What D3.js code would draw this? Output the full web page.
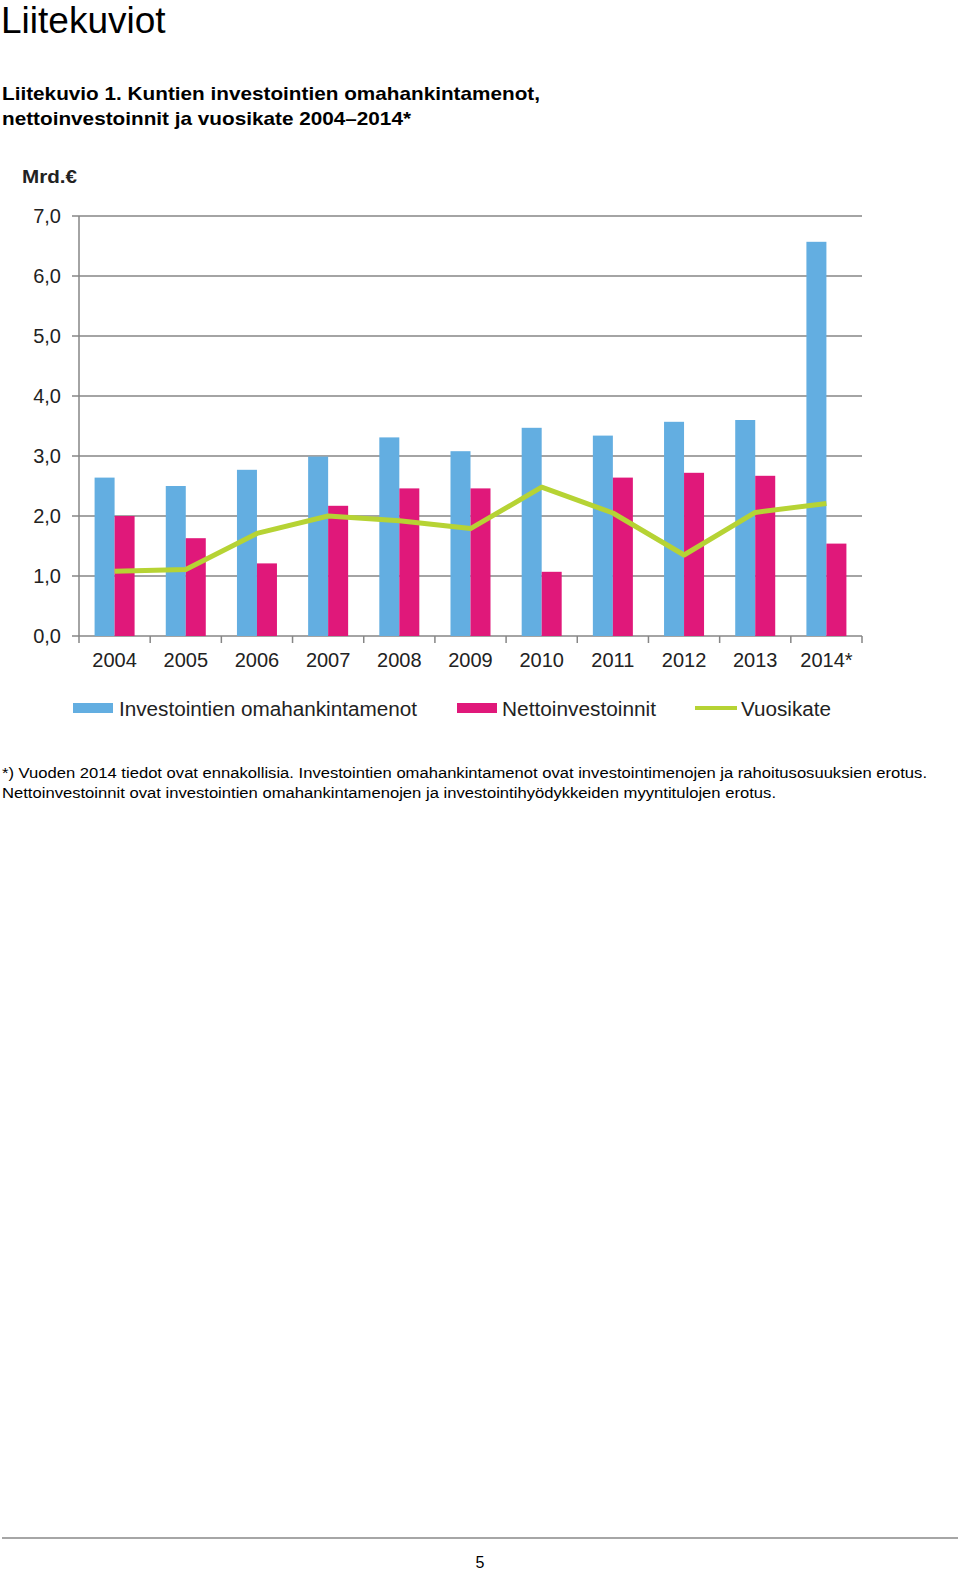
<!DOCTYPE html>
<html><head><meta charset="utf-8">
<script src="https://cdn.jsdelivr.net/npm/d3@7"></script>
<style>
html,body{margin:0;padding:0;background:#fff;}
svg{display:block;}
</style></head>
<body>
<svg id="page" width="960" height="1572"></svg>
<script>
const years = ["2004","2005","2006","2007","2008","2009","2010","2011","2012","2013","2014*"];
const omahankinta = [2.64,2.50,2.77,2.99,3.31,3.08,3.47,3.34,3.57,3.60,6.57];
const netto = [2.00,1.63,1.21,2.17,2.46,2.46,1.07,2.64,2.72,2.67,1.54];
const vuosikate = [1.08,1.11,1.71,2.00,1.92,1.79,2.48,2.05,1.35,2.06,2.21];
const yTicks = [0,1,2,3,4,5,6,7];
const seriesNames = ["Investointien omahankintamenot","Nettoinvestoinnit","Vuosikate"];
const colors = {blue:"#63aee1", pink:"#e0187a", green:"#b6d334", grid:"#868686"};

const svg = d3.select("#page");
const F = "'Liberation Sans', Arial, sans-serif";

svg.append("text").attr("x",1).attr("y",33).attr("font-family",F).attr("font-size",37).text("Liitekuviot");
svg.append("text").attr("x",2).attr("y",100).attr("font-family",F).attr("font-size",19).attr("font-weight","bold")
  .attr("textLength",538).attr("lengthAdjust","spacingAndGlyphs")
  .text("Liitekuvio 1. Kuntien investointien omahankintamenot,");
svg.append("text").attr("x",2).attr("y",125).attr("font-family",F).attr("font-size",19).attr("font-weight","bold")
  .attr("textLength",409).attr("lengthAdjust","spacingAndGlyphs")
  .text("nettoinvestoinnit ja vuosikate 2004\u20132014*");

const x = d3.scaleBand().domain(years).range([79,862]).padding(0);
const y = d3.scaleLinear().domain([0,7]).range([636,216]);
const bw = 20;

// unit
svg.append("text").attr("x",22).attr("y",183).attr("font-family",F).attr("font-size",18).attr("font-weight","bold")
  .attr("fill","#222").attr("textLength",55).attr("lengthAdjust","spacingAndGlyphs").text("Mrd.\u20ac");

// grid
const g = svg.append("g");
g.selectAll("line.grid").data(yTicks).enter().append("line")
  .attr("x1",72).attr("x2",862).attr("y1",d=>y(d)).attr("y2",d=>y(d))
  .attr("stroke",colors.grid).attr("stroke-width",1.5);
g.selectAll("text.yl").data(yTicks).enter().append("text")
  .attr("x",61).attr("y",d=>y(d)+7).attr("text-anchor","end")
  .attr("font-family",F).attr("font-size",20).attr("fill","#222")
  .text(d=>d3.format(".1f")(d).replace(".",","));

// bars
g.selectAll("rect.b").data(years).enter().append("rect")
  .attr("x",(d)=>x(d)+x.bandwidth()/2-bw).attr("width",bw)
  .attr("y",(d,i)=>y(omahankinta[i])).attr("height",(d,i)=>y(0)-y(omahankinta[i]))
  .attr("fill",colors.blue);
g.selectAll("rect.p").data(years).enter().append("rect")
  .attr("x",(d)=>x(d)+x.bandwidth()/2).attr("width",bw)
  .attr("y",(d,i)=>y(netto[i])).attr("height",(d,i)=>y(0)-y(netto[i]))
  .attr("fill",colors.pink);

// axes lines
g.append("line").attr("x1",79).attr("x2",79).attr("y1",216).attr("y2",636).attr("stroke",colors.grid).attr("stroke-width",1.5);
const bounds = years.map(d=>x(d)).concat([x.range()[1]]);
g.selectAll("line.xt").data(bounds).enter().append("line")
  .attr("x1",d=>d).attr("x2",d=>d).attr("y1",636).attr("y2",643)
  .attr("stroke",colors.grid).attr("stroke-width",1.5);
g.selectAll("text.xl").data(years).enter().append("text")
  .attr("x",d=>x(d)+x.bandwidth()/2).attr("y",667).attr("text-anchor","middle")
  .attr("font-family",F).attr("font-size",20).attr("fill","#222").text(d=>d);

// line
const line = d3.line().x((d,i)=>x(years[i])+x.bandwidth()/2).y(d=>y(d));
g.append("path").datum(vuosikate).attr("d",line).attr("fill","none")
  .attr("stroke",colors.green).attr("stroke-width",5).attr("stroke-linejoin","round");

// legend
const lg = svg.append("g");
lg.append("rect").attr("x",73).attr("y",703).attr("width",40).attr("height",10).attr("fill",colors.blue);
lg.append("text").attr("x",119).attr("y",716).attr("font-family",F).attr("font-size",20).attr("fill","#222")
  .attr("textLength",298).attr("lengthAdjust","spacingAndGlyphs").text(seriesNames[0]);
lg.append("rect").attr("x",457).attr("y",703).attr("width",40).attr("height",10).attr("fill",colors.pink);
lg.append("text").attr("x",502).attr("y",716).attr("font-family",F).attr("font-size",20).attr("fill","#222")
  .attr("textLength",154).attr("lengthAdjust","spacingAndGlyphs").text(seriesNames[1]);
lg.append("line").attr("x1",695).attr("x2",737).attr("y1",708).attr("y2",708).attr("stroke",colors.green).attr("stroke-width",4);
lg.append("text").attr("x",741).attr("y",716).attr("font-family",F).attr("font-size",20).attr("fill","#222")
  .attr("textLength",90).attr("lengthAdjust","spacingAndGlyphs").text(seriesNames[2]);

// footnote
svg.append("text").attr("x",2).attr("y",778).attr("font-family",F).attr("font-size",15.5)
  .attr("textLength",925).attr("lengthAdjust","spacingAndGlyphs")
  .text("*) Vuoden 2014 tiedot ovat ennakollisia. Investointien omahankintamenot ovat investointimenojen ja rahoitusosuuksien erotus.");
svg.append("text").attr("x",2).attr("y",798).attr("font-family",F).attr("font-size",15.5)
  .attr("textLength",774).attr("lengthAdjust","spacingAndGlyphs")
  .text("Nettoinvestoinnit ovat investointien omahankintamenojen ja investointihyödykkeiden myyntitulojen erotus.");

// footer
svg.append("line").attr("x1",2).attr("x2",958).attr("y1",1538).attr("y2",1538).attr("stroke","#888").attr("stroke-width",1.5);
svg.append("text").attr("x",480).attr("y",1568).attr("text-anchor","middle").attr("font-family",F).attr("font-size",16).text("5");
</script>
</body></html>
